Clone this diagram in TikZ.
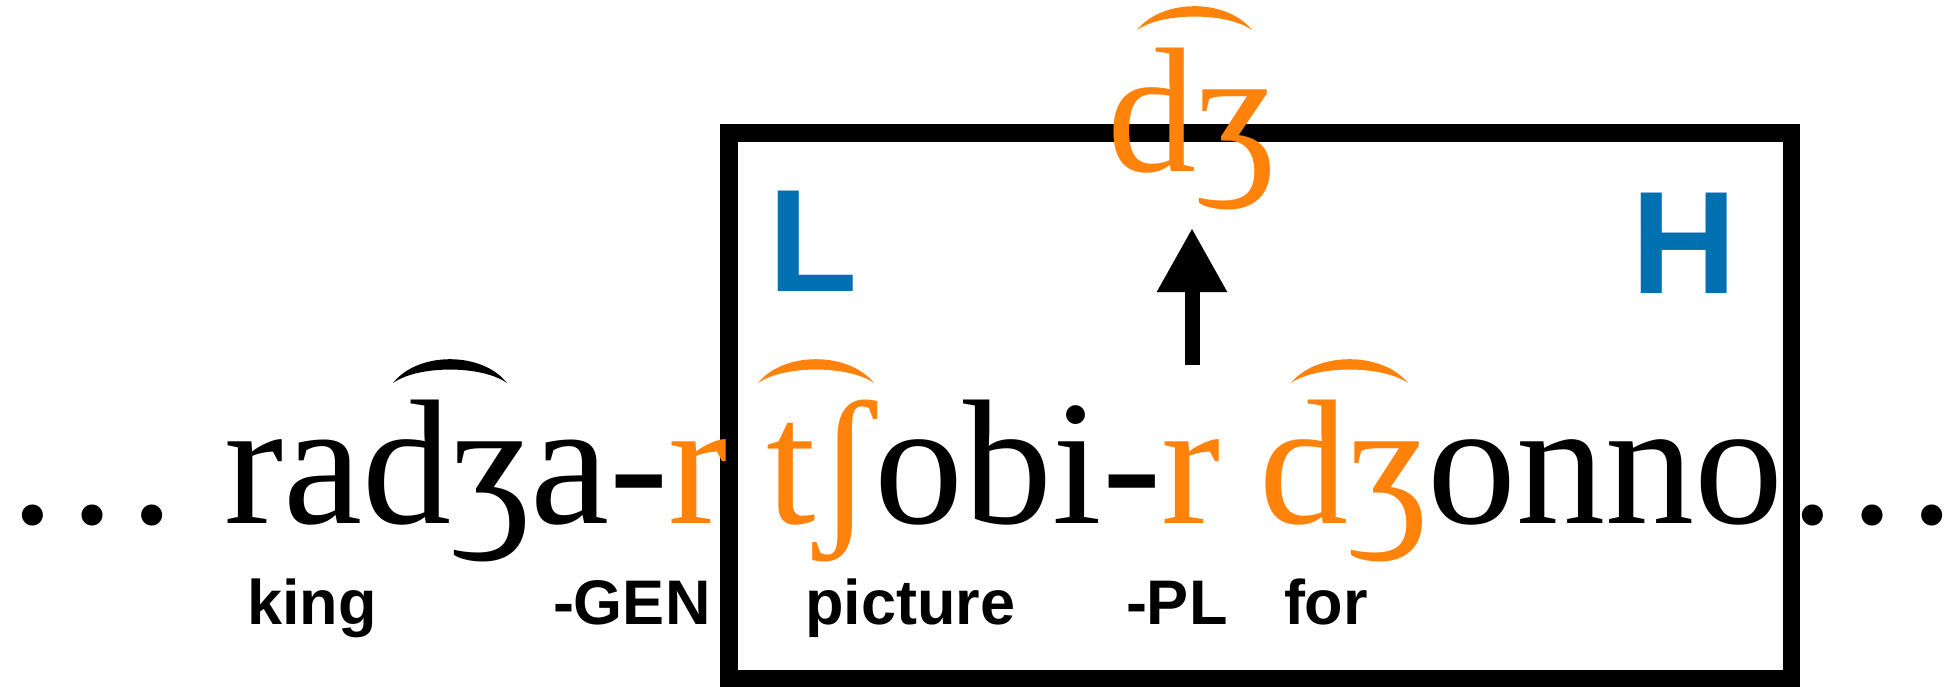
\documentclass[tikz,border=0pt]{standalone}
\usepackage{fontspec}
\setmainfont{Liberation Serif}
\newfontfamily\glsans{Liberation Sans}
\usetikzlibrary{arrows.meta}
\definecolor{ipaorange}{RGB}{255,130,10}
\definecolor{tonblue}{RGB}{0,112,176}
\tikzset{
  ipa/.style={anchor=base west, inner sep=0pt, outer sep=0pt, font=\fontsize{178}{200}\selectfont},
  gloss/.style={anchor=base west, inner sep=0pt, outer sep=0pt, font=\glsans\bfseries\fontsize{63}{70}\selectfont},
  tone/.style={anchor=base west, inner sep=0pt, outer sep=0pt, text=tonblue, font=\glsans\bfseries\fontsize{146}{160}\selectfont},
  pics/tiebar/.style={code={
    \fill[fill=#1] (0,0) .. controls (0.22,-1.38) and (0.78,-1.38) .. (1,0)
      .. controls (0.78,-0.78) and (0.22,-0.78) .. (0,0) -- cycle;}},
  domainbox/.style={draw=black, line width=17.5pt},
  uparrow/.style={draw=black, line width=15pt, -{Triangle[width=66pt,length=64pt]}}
}
\begin{document}
\begin{tikzpicture}[x=1pt,y=-1pt]
\useasboundingbox (0,0) rectangle (1944,686);
% box
\draw[domainbox] (729,133) rectangle (1791.5,679);
% main line
\node[ipa] (dotsL) at (3,523) {…};
\node[ipa] (w1) at (224,523) {radʒa-{\color{ipaorange}r}};
\node[ipa] (w2) at (766,523) {{\color{ipaorange}tʃ}obi-{\color{ipaorange}r}};
\node[ipa] (w3) at (1259,523) {{\color{ipaorange}dʒ}onno…};
% floating segment
\node[ipa, text=ipaorange] (top) at (1107,171) {dʒ};
% ties
\pic[xscale=114,yscale=23] at (393,383) {tiebar=black};
\pic[xscale=116,yscale=23] at (758,383) {tiebar=ipaorange};
\pic[xscale=117,yscale=23] at (1291,383) {tiebar=ipaorange};
\pic[xscale=115,yscale=23] at (1137,30) {tiebar=ipaorange};
% tones
\node[tone] (L) at (768,291) {L};
\node[tone] (H) at (1631,293) {H};
% arrow
\coordinate (arrS) at (1192,365);
\coordinate (arrE) at (1192,228);
\draw[uparrow] (arrS) -- (arrE);
% glosses
\node[gloss] (g1) at (247,624) {king};
\node[gloss] (g2) at (553,624) {-GEN};
\node[gloss] (g3) at (805,624) {picture};
\node[gloss] (g4) at (1126,624) {-PL};
\node[gloss] (g5) at (1284,624) {for};
\end{tikzpicture}
\end{document}
